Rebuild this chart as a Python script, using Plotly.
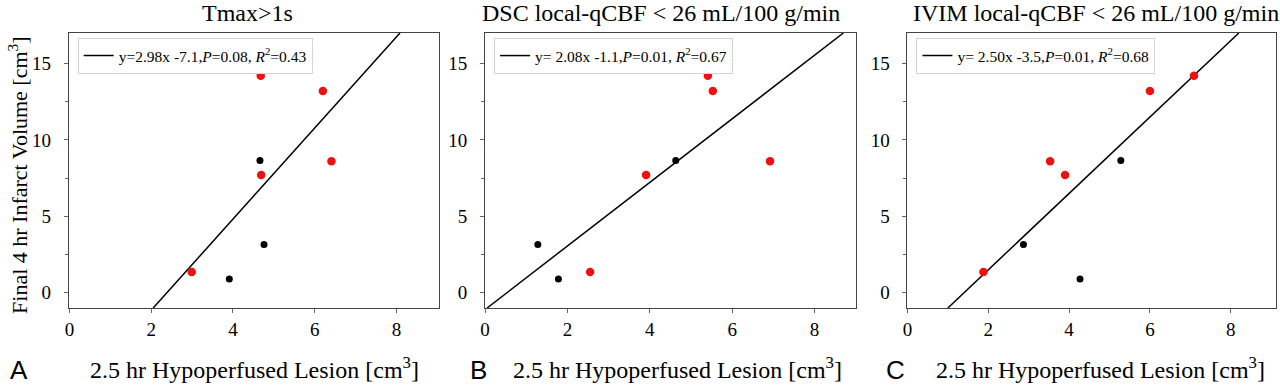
import plotly.graph_objects as go

W, H = 1280, 386

# ---- data ----
panel_titles = ["Tmax>1s", "DSC local-qCBF < 26 mL/100 g/min", "IVIM local-qCBF < 26 mL/100 g/min"]
panel_letters = ["A", "B", "C"]
red_y = [14.2, 13.2, 7.7, 8.6, 1.35]
black_y = [8.65, 3.15, 0.9]
red_x_A = [4.68, 6.20, 4.69, 6.41, 2.99]
black_x_A = [4.66, 4.76, 3.91]
red_x_B = [5.41, 5.53, 3.91, 6.92, 2.55]
black_x_B = [4.63, 1.28, 1.78]
red_x_C = [7.09, 6.00, 3.90, 3.53, 1.88]
red_y_C = [14.2, 13.2, 7.7, 8.6, 1.35]
black_x_C = [5.28, 2.87, 4.27]
slopes = [2.98, 2.08, 2.50]
intercepts = [-7.1, -1.1, -3.5]
fit_labels = [
    "y=2.98x -7.1,<i>P</i>=0.08, <i>R</i><sup>2</sup>=0.43",
    "y= 2.08x -1.1,<i>P</i>=0.01, <i>R</i><sup>2</sup>=0.67",
    "y= 2.50x -3.5,<i>P</i>=0.01, <i>R</i><sup>2</sup>=0.68",
]
x_ticks = [0, 2, 4, 6, 8]
y_ticks = [0, 5, 10, 15]
y_minor_ticks = [2.5, 7.5, 12.5]

red_x = [red_x_A, red_x_B, red_x_C]
red_ys = [red_y, red_y, red_y_C]
black_x = [black_x_A, black_x_B, black_x_C]

# ---- layout geometry (pixels) ----
px_left = [64, 482, 906]
px_right = [436, 854, 1276]
px_top, px_bottom = 33, 308
x_ranges = [[-0.02, 9.05], [0.0, 9.0], [0.0, 9.12]]
y_range = [-1.0, 17.0]

SERIF = "Liberation Serif, Times New Roman, serif"
SANS = "Liberation Sans, Arial, sans-serif"

fig = go.Figure()
layout = dict(
    width=W, height=H, margin=dict(l=0, r=0, t=0, b=0),
    paper_bgcolor="white", plot_bgcolor="white",
    font=dict(family=SERIF, color="black", size=16),
    showlegend=True,
)
annotations = []
for i in range(3):
    sx = "" if i == 0 else str(i + 1)
    xa, ya = "x" + sx, "y" + sx
    dom_x = [px_left[i] / W, px_right[i] / W]
    dom_y = [1 - px_bottom / H, 1 - px_top / H]
    axis_common = dict(
        showgrid=False, zeroline=False, showline=True, mirror=True,
        linecolor="#444", linewidth=1, ticks="outside", ticklen=4,
        tickcolor="#666", tickfont=dict(family=SERIF, size=19, color="black"),
    )
    layout["xaxis" + sx] = dict(domain=dom_x, range=x_ranges[i], tickvals=x_ticks,
                                anchor=ya, **axis_common)
    layout["yaxis" + sx] = dict(domain=dom_y, range=y_range, tickvals=y_ticks,
                                anchor=xa, ticklabelstandoff=9,
                                minor=dict(tickvals=y_minor_ticks, ticks="outside",
                                           ticklen=3, tickcolor="#666"),
                                **axis_common)
    lg = "legend" if i == 0 else "legend" + str(i + 1)
    layout[lg] = dict(
        x=(px_left[i] + 9) / W, y=1 - 38 / H, xanchor="left", yanchor="top",
        bgcolor="white", bordercolor="#d4d4d4", borderwidth=1,
        font=dict(family=SERIF, size=15.5, color="black"),
        itemwidth=30, tracegroupgap=0,
    )
    # fit line across visible range
    x0, x1 = x_ranges[i]
    m, b = slopes[i], intercepts[i]
    xs0 = max(x0, (y_range[0] - b) / m)
    xs1 = min(x1, (y_range[1] - b) / m)
    fig.add_trace(go.Scatter(
        x=[xs0, xs1], y=[m * xs0 + b, m * xs1 + b], mode="lines",
        line=dict(color="black", width=1.5), name=fit_labels[i],
        xaxis=xa, yaxis=ya, legend=lg, showlegend=True, hoverinfo="skip"))
    fig.add_trace(go.Scatter(
        x=black_x[i], y=black_y, mode="markers",
        marker=dict(color="black", size=7), xaxis=xa, yaxis=ya, showlegend=False))
    fig.add_trace(go.Scatter(
        x=red_x[i], y=red_ys[i], mode="markers",
        marker=dict(color="#ee1111", size=8.5), xaxis=xa, yaxis=ya, showlegend=False))

    # titles
    title_cx = [243, 659, 1095][i]
    annotations.append(dict(text=panel_titles[i], x=title_cx / W, y=1 - 13 / H,
                            xref="paper", yref="paper", showarrow=False,
                            xanchor="center", yanchor="middle",
                            font=dict(family=SERIF, size=24, color="black")))
    xt_cx = [250, 675, 1100][i]
    annotations.append(dict(text="2.5 hr Hypoperfused Lesion [cm<sup>3</sup>]",
                            x=xt_cx / W, y=1 - 368 / H,
                            xref="paper", yref="paper", showarrow=False,
                            xanchor="center", yanchor="middle",
                            font=dict(family=SERIF, size=24, color="black")))
    let_cx = [14, 475, 894][i]
    annotations.append(dict(text=panel_letters[i], x=let_cx / W, y=1 - 370 / H,
                            xref="paper", yref="paper", showarrow=False,
                            xanchor="center", yanchor="middle",
                            font=dict(family=SANS, size=26, color="black")))

annotations.append(dict(text="Final 4 hr Infarct Volume [cm<sup>3</sup>]",
                        x=13 / W, y=1 - 175 / H, xref="paper", yref="paper",
                        showarrow=False, textangle=-90, xanchor="center", yanchor="middle",
                        font=dict(family=SERIF, size=22, color="black")))
layout["annotations"] = annotations
fig.update_layout(**layout)
fig.write_html("out.html", config={"displayModeBar": False},
               post_script="document.body.style.margin='0';document.body.style.overflow='hidden';")
